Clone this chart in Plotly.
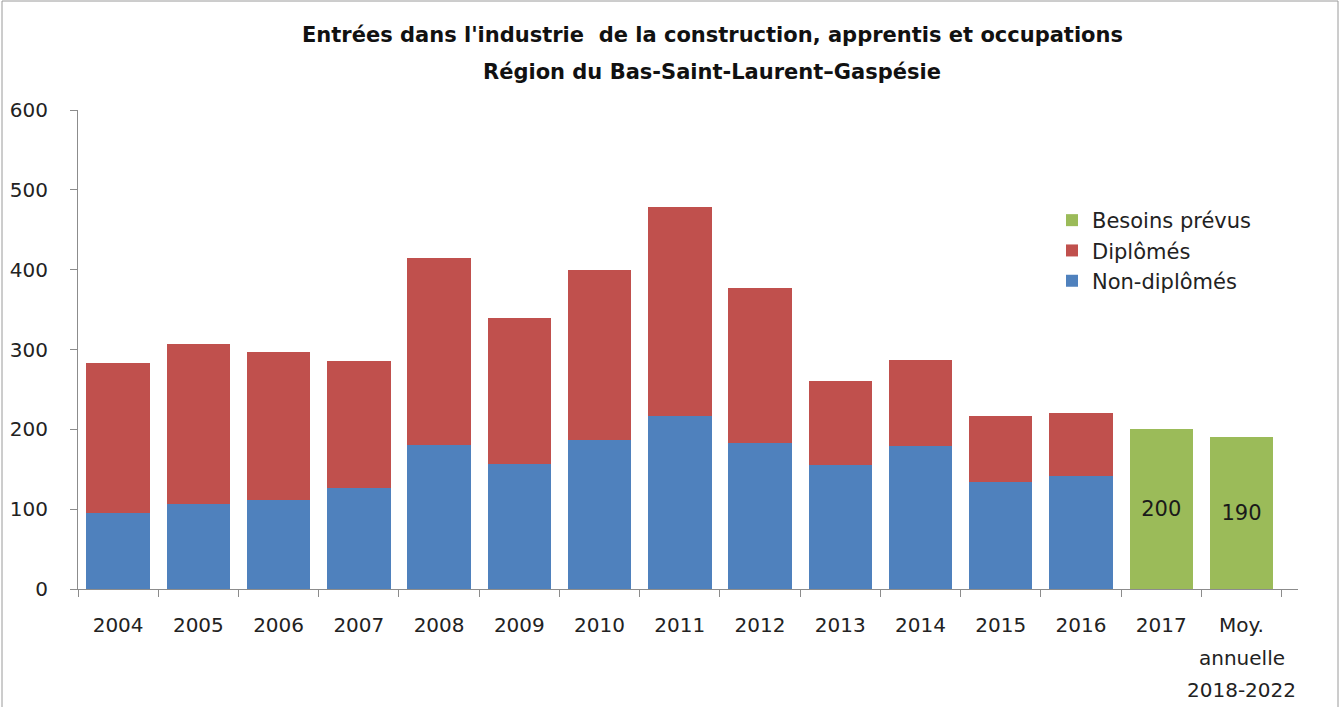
import plotly.graph_objects as go

categories = ["2004", "2005", "2006", "2007", "2008", "2009", "2010", "2011",
              "2012", "2013", "2014", "2015", "2016", "2017", "Moy. annuelle 2018-2022"]
tick_labels = ["2004", "2005", "2006", "2007", "2008", "2009", "2010", "2011",
               "2012", "2013", "2014", "2015", "2016", "2017", "Moy."]
last_label_extra = ["annuelle", "2018-2022"]
non_diplomes = [95, 106, 111, 127, 180, 157, 187, 217, 183, 155, 179, 134, 142, None, None]
totals = [283, 307, 297, 285, 415, 339, 399, 478, 377, 261, 287, 217, 221, None, None]
diplomes = [t - n if t is not None else None for t, n in zip(totals, non_diplomes)]
besoins = [None] * 13 + [200, 190]
besoins_text = ["" for _ in range(13)] + ["200", "190"]
title_line1 = "Entrées dans l'industrie  de la construction, apprentis et occupations"
title_line2 = "Région du Bas-Saint-Laurent–Gaspésie"

W, H = 1341, 707
ML, MR, MT, MB = 78, 43, 110, 118
pw = W - ML - MR
ph = H - MT - MB
FONT = "DejaVu Sans, sans-serif"


def px_x(px):
    return (px - ML) / pw


def px_y(py):
    return (H - MB - py) / ph


fig = go.Figure()
fig.add_trace(go.Bar(x=categories, y=non_diplomes, name="Non-diplômés",
                     marker=dict(color="#4F81BD", line=dict(width=0))))
fig.add_trace(go.Bar(x=categories, y=diplomes, name="Diplômés",
                     marker=dict(color="#C0504D", line=dict(width=0))))
fig.add_trace(go.Bar(x=categories, y=besoins, name="Besoins prévus",
                     marker=dict(color="#9BBB59", line=dict(width=0)),
                     text=besoins_text, textposition="inside",
                     insidetextanchor="middle", textangle=0,
                     textfont=dict(size=21, color="#1a1a1a", family=FONT)))

fig.add_shape(type="rect", xref="paper", yref="paper",
              x0=px_x(2), x1=px_x(W - 3), y0=px_y(H + 5), y1=px_y(1),
              line=dict(color="#9a9a9a", width=1), layer="below")

fig.add_annotation(text="<b>" + title_line1 + "</b>", xref="paper", yref="paper",
                   x=px_x(712), y=px_y(35), xanchor="center", yanchor="middle",
                   showarrow=False, font=dict(size=21, family=FONT, color="#111"))
fig.add_annotation(text="<b>" + title_line2 + "</b>", xref="paper", yref="paper",
                   x=px_x(712), y=px_y(72), xanchor="center", yanchor="middle",
                   showarrow=False, font=dict(size=21, family=FONT, color="#111"))

for i, line in enumerate(last_label_extra):
    fig.add_annotation(text=line, xref="x", yref="paper",
                       x=categories[-1], y=px_y(658 + 32 * i), xanchor="center",
                       yanchor="middle", showarrow=False,
                       font=dict(size=20, family=FONT, color="#222"))

fig.update_layout(
    width=W, height=H,
    margin=dict(l=ML, r=MR, t=MT, b=MB, autoexpand=False),
    barmode="stack", bargap=0.21,
    plot_bgcolor="white", paper_bgcolor="white",
    font=dict(family=FONT, size=20, color="#222"),
    legend=dict(x=px_x(1052), y=px_y(200), xanchor="left", yanchor="top",
                traceorder="reversed", font=dict(size=21, family=FONT),
                itemwidth=30, tracegroupgap=0, bgcolor="rgba(0,0,0,0)"),
    showlegend=True,
    xaxis=dict(showline=True, linecolor="#8c8c8c", linewidth=1,
               ticks="outside", tickson="boundaries", ticklen=7, tickcolor="#8c8c8c",
               tickmode="array", tickvals=categories, ticktext=tick_labels,
               tickfont=dict(size=20), showgrid=False, tickangle=0, automargin=False,
               ticklabelstandoff=18),
    yaxis=dict(range=[0, 600], dtick=100, showline=True, linecolor="#8c8c8c", linewidth=1,
               ticks="outside", ticklen=7, tickcolor="#8c8c8c", showgrid=False,
               zeroline=False, tickfont=dict(size=20), ticklabelstandoff=18,
               automargin=False),
)
fig.write_html("out.html", config={"displayModeBar": False},
               post_script="document.body.style.margin='0px';")
